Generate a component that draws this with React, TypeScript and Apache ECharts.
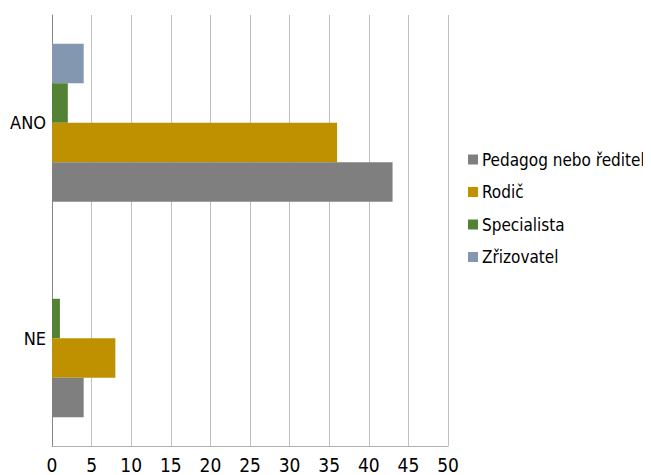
import React, { useEffect, useRef } from "react";
import * as echarts from "echarts";

const categories = ["NE", "ANO"];
const seriesNames = ["Pedagog nebo ředitel", "Rodič", "Specialista", "Zřizovatel"];
const pedagog = [4, 43];
const rodic = [8, 36];
const specialista = [1, 2];
const zrizovatel = [0, 4];
const colors = ["#7f7f7f", "#bf9000", "#548235", "#8497b0"];
const xTicks = { min: 0, max: 50, interval: 5 };

const FONT = "'DejaVu Sans Condensed', 'Liberation Sans Narrow', sans-serif";

export default function App() {
  const ref = useRef<HTMLDivElement>(null);
  useEffect(() => {
    if (!ref.current) return;
    const chart = echarts.init(ref.current, undefined, { renderer: "svg" });
    const values = [pedagog, rodic, specialista, zrizovatel];
    // ECharts places the first series at the top of a horizontal group, so feed them reversed
    const order = [3, 2, 1, 0];
    chart.setOption({
      animation: false,
      backgroundColor: "#ffffff",
      textStyle: { fontFamily: FONT },
      grid: { left: 52, right: 203, top: 15, bottom: 29, containLabel: false },
      legend: {
        orient: "vertical",
        left: 468,
        top: 151,
        padding: 0,
        itemWidth: 10,
        itemHeight: 10,
        itemGap: 15.5,
        icon: "rect",
        textStyle: { fontFamily: FONT, fontSize: 17, color: "#000000", padding: [0, 0, 0, -1] },
        data: seriesNames,
      },
      xAxis: {
        type: "value",
        min: xTicks.min,
        max: xTicks.max,
        interval: xTicks.interval,
        axisLine: { show: true, lineStyle: { color: "#b0b0b0", width: 1 } },
        axisTick: { show: false },
        axisLabel: { fontFamily: FONT, fontSize: 19, color: "#000000", margin: 9 },
        splitLine: { show: true, lineStyle: { color: "#c0c0c0", width: 1 } },
      },
      yAxis: {
        type: "category",
        data: categories,
        axisLine: { show: true, lineStyle: { color: "#868686", width: 1 } },
        axisTick: { show: false },
        axisLabel: { fontFamily: FONT, fontSize: 18, color: "#000000", margin: 6 },
      },
      series: order.map((i) => ({
        name: seriesNames[i],
        type: "bar",
        data: values[i],
        itemStyle: { color: colors[i] },
        barGap: "0%",
        barCategoryGap: "26.7%",
      })),
    });
    return () => chart.dispose();
  }, []);
  return <div ref={ref} style={{ width: 651, height: 475, marginLeft: -8, marginTop: -8 }} />;
}
